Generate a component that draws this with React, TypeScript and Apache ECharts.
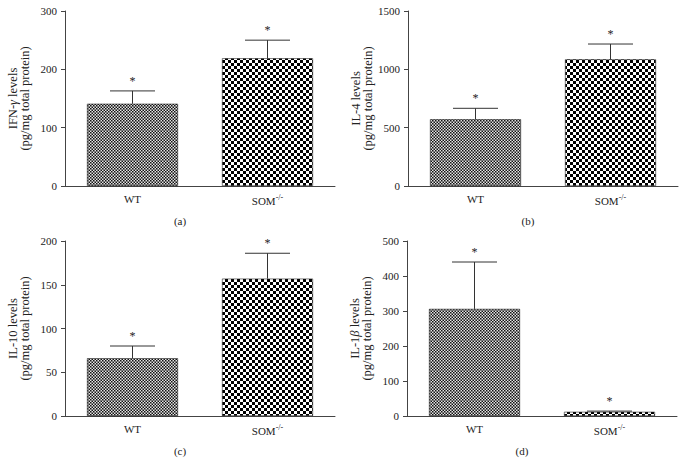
import React, { useEffect, useRef } from "react";
import * as echarts from "echarts";

const categories = ["WT", "SOM"];
const ifnValues = [141, 219];
const ifnErrors = [163, 250];
const il4Values = [572, 1086];
const il4Errors = [666, 1217];
const il10Values = [66, 157];
const il10Errors = [80, 186];
const il1bValues = [306, 12];
const il1bErrors = [440, 14];

const FONT = "Liberation Serif";

function makePattern(cell: number, dark: string, light: string) {
  const c = document.createElement("canvas");
  c.width = cell * 2;
  c.height = cell * 2;
  const ctx = c.getContext("2d")!;
  ctx.fillStyle = light;
  ctx.fillRect(0, 0, cell * 2, cell * 2);
  ctx.fillStyle = dark;
  ctx.fillRect(0, 0, cell, cell);
  ctx.fillRect(cell, cell, cell, cell);
  return c;
}

export default function App() {
  const ref = useRef<HTMLDivElement>(null);
  useEffect(() => {
    if (!ref.current) return;
    const chart = echarts.init(ref.current, undefined, { renderer: "svg" });
    const fine = makePattern(3, "#111111", "#e4e4e4");
    const coarse = makePattern(3, "#000000", "#ffffff");
    const panels = [
      { left: 65, top: 11, max: 300, interval: 100, name: "IFN-{i|γ} levels\n(pg/mg total protein)", vals: ifnValues, errs: ifnErrors },
      { left: 408, top: 11, max: 1500, interval: 500, name: "IL-4 levels\n(pg/mg total protein)", vals: il4Values, errs: il4Errors },
      { left: 65, top: 241, max: 200, interval: 50, name: "IL-10 levels\n(pg/mg total protein)", vals: il10Values, errs: il10Errors },
      { left: 407, top: 241, max: 500, interval: 100, name: "IL-1{i|β} levels\n(pg/mg total protein)", vals: il1bValues, errs: il1bErrors },
    ];
    const axisColor = "#444";
    const textColor = "#222";
    const grid = panels.map((p) => ({ left: p.left, top: p.top, width: 270, height: 175 }));
    const xAxis = panels.map((p, i) => ({
      type: "category",
      gridIndex: i,
      data: categories,
      axisLine: { lineStyle: { color: axisColor, width: 1 } },
      axisTick: { alignWithLabel: true, length: 4, lineStyle: { color: axisColor } },
      axisLabel: {
        margin: 7,
        fontFamily: FONT,
        fontSize: 11,
        color: textColor,
        formatter: (v: string) => (v === "SOM" ? "SOM{sup|-/-}" : v),
        rich: {
          sup: { fontSize: 8, fontFamily: FONT, color: textColor, padding: [0, 0, 7, 0] },
        },
      },
    }));
    const yAxis = panels.map((p, i) => ({
      type: "value",
      gridIndex: i,
      min: 0,
      max: p.max,
      interval: p.interval,
      splitLine: { show: false },
      axisLine: { show: true, lineStyle: { color: axisColor, width: 1 } },
      axisTick: { show: true, length: 4, lineStyle: { color: axisColor } },
      axisLabel: { margin: 8, fontFamily: FONT, fontSize: 11, color: textColor, formatter: (v: number) => String(v) },
      name: p.name,
      nameLocation: "middle",
      nameGap: 34,
      nameTextStyle: {
        fontFamily: FONT,
        fontSize: 12.5,
        color: textColor,
        lineHeight: 12,
        align: "center",
        rich: { i: { fontStyle: "italic", fontFamily: FONT, fontSize: 12.5, color: textColor, lineHeight: 12 } },
      },
    }));
    const series: any[] = [];
    panels.forEach((p, i) => {
      series.push({
        type: "bar",
        xAxisIndex: i,
        yAxisIndex: i,
        barWidth: 91,
        data: p.vals.map((v, j) => ({
          value: v,
          itemStyle: {
            color: j === 0
              ? { image: fine, repeat: "repeat", scaleX: 0.5, scaleY: 0.5 }
              : { image: coarse, repeat: "repeat" },
            borderColor: "#222",
            borderWidth: 0.6,
          },
        })),
      });
      series.push({
        type: "custom",
        xAxisIndex: i,
        yAxisIndex: i,
        data: p.vals.map((v, j) => [j, v, p.errs[j]]),
        renderItem: (params: any, api: any) => {
          const idx = api.value(0);
          const base = api.coord([idx, api.value(1)]);
          const top = api.coord([idx, api.value(2)]);
          const half = 22.5;
          return {
            type: "group",
            children: [
              { type: "line", shape: { x1: base[0], y1: base[1], x2: top[0], y2: top[1] }, style: { stroke: "#333", lineWidth: 1 } },
              { type: "line", shape: { x1: top[0] - half, y1: top[1], x2: top[0] + half, y2: top[1] }, style: { stroke: "#333", lineWidth: 1 } },
              { type: "text", x: top[0], y: top[1] - 4, style: { text: "*", fontFamily: FONT, fontSize: 12, fill: textColor, align: "center", verticalAlign: "bottom" } },
            ],
          };
        },
        z: 3,
      });
    });
    const letters = [
      { t: "(a)", x: 180, y: 221 },
      { t: "(b)", x: 528, y: 221 },
      { t: "(c)", x: 180, y: 451 },
      { t: "(d)", x: 522, y: 451 },
    ];
    chart.setOption({
      animation: false,
      backgroundColor: "#ffffff",
      grid,
      xAxis,
      yAxis,
      series,
      graphic: letters.map((l) => ({
        type: "text",
        x: l.x,
        y: l.y,
        style: { text: l.t, fontFamily: FONT, fontSize: 11, fill: textColor, align: "center", verticalAlign: "middle" },
      })),
    });
    return () => chart.dispose();
  }, []);
  return <div ref={ref} style={{ position: "absolute", left: 0, top: 0, width: 686, height: 463, background: "#fff" }} />;
}
